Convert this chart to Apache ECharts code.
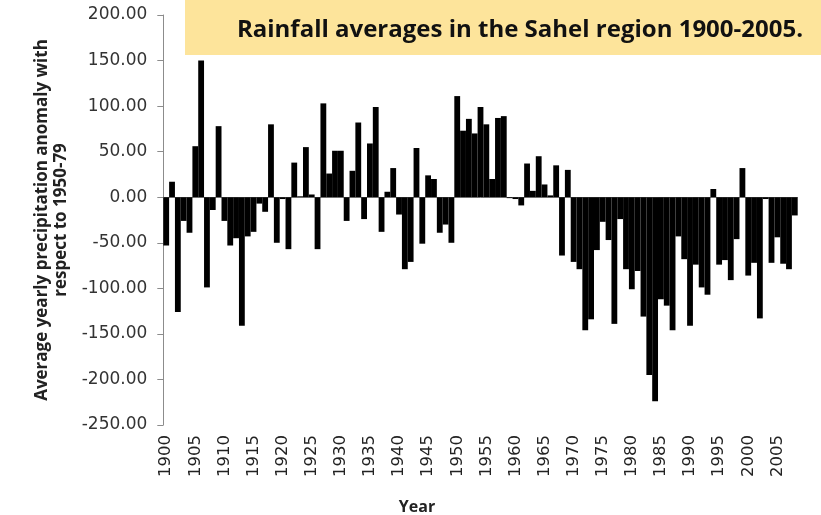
<!DOCTYPE html>
<html>
<head>
<meta charset="utf-8">
<script src="https://cdn.jsdelivr.net/npm/echarts@6/dist/echarts.min.js"></script>
<style>
  html, body { margin: 0; padding: 0; background: #ffffff; }
  #chart { width: 821px; height: 515px; }
</style>
</head>
<body>
<div id="chart"></div>
<script>
// Sahel rainfall anomaly, one bar per year
const firstYear = 1900;
const lastYear = 2008;
const years = [];
for (let y = firstYear; y <= lastYear; y++) years.push(String(y));

const anomalies = [
  -53, 17, -126, -26, -39, 56, 150, -99, -14, 78,      // 1900s
  -26, -53, -45, -141, -43, -38, -7, -16, 80, -50,     // 1910s
  -2, -57, 38, 1, 55, 3, -57, 103, 26, 51,             // 1920s
  51, -26, 29, 82, -24, 59, 99, -38, 6, 32,            // 1930s
  -19, -79, -71, 54, -51, 24, 20, -39, -30, -50,       // 1940s
  111, 73, 86, 70, 99, 80, 20, 87, 89, -1,             // 1950s
  -2, -9, 37, 7, 45, 14, 2, 35, -64, 30,               // 1960s
  -71, -79, -146, -134, -58, -27, -47, -139, -24, -79, // 1970s
  -101, -81, -131, -195, -224, -112, -119, -146, -43, -68, // 1980s
  -141, -74, -99, -107, 9, -74, -69, -91, -46, 32,     // 1990s
  -86, -72, -133, -2, -72, -44, -73, -79, -20          // 2000s
];

const yTicks = { min: -250, max: 200, step: 50 };
const titleText = 'Rainfall averages in the Sahel region 1900-2005.';
const yName = 'Average yearly precipitation anomaly with\nrespect to 1950-79';
const xName = 'Year';

const chart = echarts.init(document.getElementById('chart'), null, { renderer: 'canvas' });

const axisGrey = '#8c8c8c';
const tickFont = '"DejaVu Sans", sans-serif';
const headFont = '"Open Sans", sans-serif';

chart.setOption({
  animation: false,
  backgroundColor: '#ffffff',
  graphic: [
    {
      // title banner
      type: 'rect',
      left: 185, top: 0,
      shape: { width: 636, height: 55 },
      style: { fill: '#fde49b' },
      z: 0
    },
    {
      // horizontal axis caption
      type: 'text',
      x: 417,
      y: 507,
      style: {
        text: xName,
        fontFamily: headFont,
        fontWeight: 'bold',
        fontSize: 16,
        fill: '#222',
        textAlign: 'center',
        textVerticalAlign: 'middle'
      }
    }
  ],
  title: {
    text: titleText,
    right: 13,
    top: 13,
    textStyle: {
      fontFamily: headFont,
      fontWeight: 'bold',
      fontSize: 24,
      color: '#111111'
    },
    z: 10
  },
  grid: {
    left: 163.3,
    right: 23.3,
    top: 15,
    bottom: 90,
    containLabel: false
  },
  xAxis: {
    type: 'category',
    data: years,
    axisLine: { show: false, onZero: false },
    axisTick: { show: false },
    axisLabel: {
      interval: 4,
      rotate: 90,
      margin: 10,
      fontFamily: tickFont,
      fontSize: 16.5,
      color: '#222'
    },
    splitLine: { show: false }
  },
  yAxis: {
    type: 'value',
    min: yTicks.min,
    max: yTicks.max,
    interval: yTicks.step,
    name: yName,
    nameLocation: 'middle',
    nameRotate: 90,
    nameGap: 90,
    nameTextStyle: {
      fontFamily: headFont,
      fontWeight: 'bold',
      fontSize: 17,
      lineHeight: 19,
      color: '#222',
      align: 'center'
    },
    axisLine: { show: true, lineStyle: { color: axisGrey, width: 1 } },
    axisTick: { show: true, inside: false, length: 6, lineStyle: { color: axisGrey } },
    axisLabel: {
      margin: 16,
      fontFamily: tickFont,
      fontSize: 17,
      color: '#333',
      formatter: v => v.toFixed(2)
    },
    splitLine: { show: false }
  },
  series: [
    {
      type: 'bar',
      data: anomalies,
      barCategoryGap: '0%',
      itemStyle: { color: '#000000' },
      markLine: {
        silent: true,
        symbol: 'none',
        label: { show: false },
        lineStyle: { color: axisGrey, type: 'solid', width: 1 },
        data: [{ yAxis: 0 }],
        z: 1
      }
    }
  ]
});
</script>
</body>
</html>
